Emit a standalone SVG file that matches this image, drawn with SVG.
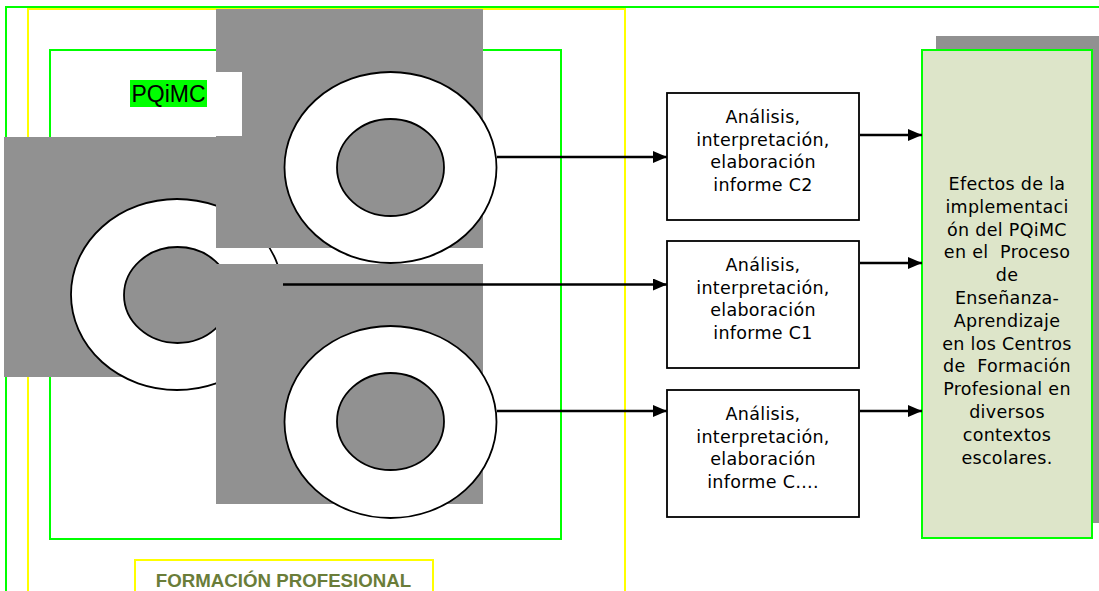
<svg xmlns="http://www.w3.org/2000/svg" width="1099" height="591" viewBox="0 0 1099 591">
<defs>
<style>
.frameG{fill:none;stroke:#00ff00;stroke-width:2}
.frameY{fill:none;stroke:#ffff00;stroke-width:2}
.gray{fill:#919191}
.ringO{fill:#ffffff;stroke:#000;stroke-width:1.8}
.ringI{fill:#919191;stroke:#000;stroke-width:1.8}
.box{fill:#ffffff;stroke:#000;stroke-width:1.8}
.bt{font-family:"DejaVu Sans",Verdana,sans-serif;font-size:17.5px;letter-spacing:0.3px;fill:#000;text-anchor:middle;white-space:pre}
.conn{stroke:#000;stroke-width:2.4;fill:none;marker-end:url(#ah)}
</style>
<marker id="ah" markerWidth="14" markerHeight="12" refX="14" refY="6" orient="auto" markerUnits="userSpaceOnUse">
<path d="M0,0 L14,6 L0,12 Z" fill="#000"/>
</marker>
</defs>
<rect width="1099" height="591" fill="#ffffff"/>
<g id="frames">
<rect class="frameG" x="6" y="7" width="1100" height="600"/>
<rect class="frameY" x="28" y="9" width="597" height="600"/>
<rect class="frameG" x="50" y="50" width="511" height="489"/>
</g>
<g id="ring-left">
<rect class="gray" x="4" y="137" width="212" height="240"/>
<ellipse class="ringO" cx="177" cy="294.5" rx="106" ry="95.5"/>
<ellipse class="ringI" cx="177.5" cy="295" rx="53.5" ry="48"/>
</g>
<g id="ring-top">
<rect class="gray" x="216" y="9" width="267" height="239"/>
<ellipse class="ringO" cx="390.5" cy="167.5" rx="106" ry="95.5"/>
<ellipse class="ringI" cx="390.5" cy="167.5" rx="53.5" ry="48.5"/>
</g>
<g id="pqimc-label">
<rect x="60" y="72" width="182" height="64" fill="#ffffff"/>
<rect x="130" y="80" width="77" height="27" fill="#00ff00"/>
<text x="168.5" y="102" font-family="Liberation Sans,Arial,sans-serif" font-size="23" text-anchor="middle" fill="#000">PQiMC</text>
</g>
<g id="ring-bottom">
<rect class="gray" x="216" y="264" width="267" height="240"/>
<ellipse class="ringO" cx="390.5" cy="422" rx="106" ry="96"/>
<ellipse class="ringI" cx="390.5" cy="421.5" rx="53.5" ry="48.5"/>
</g>
<g id="formacion">
<rect class="frameY" x="135" y="560" width="298" height="60"/>
<text x="283.5" y="587" font-family="Liberation Sans,Arial,sans-serif" font-size="18.7" font-weight="bold" text-anchor="middle" fill="#6a7d39">FORMACIÓN PROFESIONAL</text>
</g>
<g id="box-c2">
<rect class="box" x="667" y="93" width="192" height="127"/>
<text class="bt"><tspan x="763" y="123">Análisis,</tspan><tspan x="763" y="145.7">interpretación,</tspan><tspan x="763" y="168.3">elaboración</tspan><tspan x="763" y="191">informe C2</tspan></text>
</g>
<g id="box-c1">
<rect class="box" x="667" y="241" width="192" height="127"/>
<text class="bt"><tspan x="763" y="271">Análisis,</tspan><tspan x="763" y="293.7">interpretación,</tspan><tspan x="763" y="316.3">elaboración</tspan><tspan x="763" y="339">informe C1</tspan></text>
</g>
<g id="box-cn">
<rect class="box" x="667" y="390" width="192" height="127"/>
<text class="bt"><tspan x="763" y="420">Análisis,</tspan><tspan x="763" y="442.7">interpretación,</tspan><tspan x="763" y="465.3">elaboración</tspan><tspan x="763" y="488">informe C….</tspan></text>
</g>
<g id="efectos">
<rect class="gray" x="936" y="36" width="163" height="487"/>
<rect x="922" y="50" width="170" height="488" fill="#dde5c9" stroke="#00ff00" stroke-width="2"/>
<text class="bt"><tspan x="1007" y="190">Efectos de la</tspan><tspan x="1007" y="212.8">implementaci</tspan><tspan x="1007" y="235.6">ón del PQiMC</tspan><tspan x="1007" y="258.4">en el  Proceso</tspan><tspan x="1007" y="281.2">de</tspan><tspan x="1007" y="304">Enseñanza-</tspan><tspan x="1007" y="326.8">Aprendizaje</tspan><tspan x="1007" y="349.6">en los Centros</tspan><tspan x="1007" y="372.4">de  Formación</tspan><tspan x="1007" y="395.2">Profesional en</tspan><tspan x="1007" y="418">diversos</tspan><tspan x="1007" y="440.8">contextos</tspan><tspan x="1007" y="463.6">escolares.</tspan></text>
</g>
<g id="connectors">
<line class="conn" x1="497" y1="157" x2="667" y2="157"/>
<line class="conn" x1="283" y1="284.5" x2="667" y2="284.5"/>
<line class="conn" x1="497" y1="411" x2="667" y2="411"/>
<line class="conn" x1="860" y1="135" x2="922" y2="135"/>
<line class="conn" x1="860" y1="263" x2="922" y2="263"/>
<line class="conn" x1="860" y1="411" x2="922" y2="411"/>
</g>
</svg>
